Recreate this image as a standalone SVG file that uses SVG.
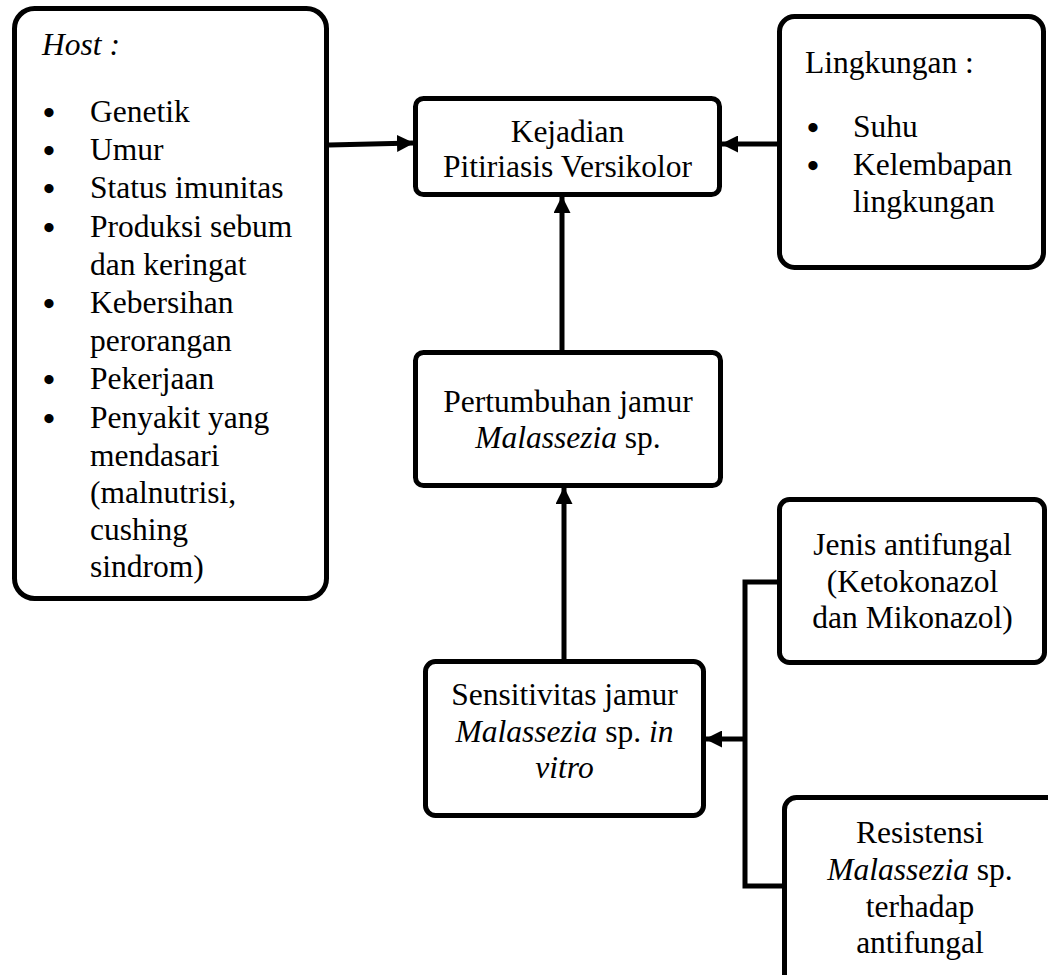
<svg xmlns="http://www.w3.org/2000/svg" width="1048" height="975" viewBox="0 0 1048 975" font-family="Liberation Serif, Times New Roman, serif" font-size="31.5">
<style>
.box{fill:#fff;stroke:#000;stroke-width:5}
.c{text-anchor:middle}
.i{font-style:italic}
.b{font-size:34px;font-weight:bold;text-anchor:middle}
.ln{fill:none;stroke:#000;stroke-width:5}
</style>
<defs>
<marker id="ah" markerUnits="userSpaceOnUse" markerWidth="17" markerHeight="17" refX="16" refY="8.5" orient="auto">
<path d="M0,0 L17,8.5 L0,17 z" fill="#000"/>
</marker>
</defs>
<rect width="1048" height="975" fill="#fff"/>
<g id="connectors">
<line class="ln" x1="329" y1="145" x2="413" y2="143" marker-end="url(#ah)"/>
<line class="ln" x1="778" y1="144" x2="722" y2="144" marker-end="url(#ah)"/>
<line class="ln" x1="562" y1="351" x2="562" y2="197" marker-end="url(#ah)"/>
<line class="ln" x1="564" y1="660" x2="564" y2="488" marker-end="url(#ah)"/>
<polyline class="ln" points="778,582 745,582 745,886 783,886"/>
<line class="ln" x1="745" y1="739" x2="706" y2="739" marker-end="url(#ah)"/>
</g>
<g id="host">
<rect class="box" x="14.5" y="8.5" width="312" height="590" rx="20"/>
<text class="i" x="42" y="55">Host :</text>
<text class="b" x="49" y="124">•</text>
<text x="90" y="122">Genetik</text>
<text class="b" x="49" y="162">•</text>
<text x="90" y="160">Umur</text>
<text class="b" x="49" y="200">•</text>
<text x="90" y="198">Status imunitas</text>
<text class="b" x="49" y="239">•</text>
<text x="90" y="237">Produksi sebum</text>
<text x="90" y="275">dan keringat</text>
<text class="b" x="49" y="315">•</text>
<text x="90" y="313">Kebersihan</text>
<text x="90" y="351">perorangan</text>
<text class="b" x="49" y="391">•</text>
<text x="90" y="389">Pekerjaan</text>
<text class="b" x="49" y="430">•</text>
<text x="90" y="428">Penyakit yang</text>
<text x="90" y="466">mendasari</text>
<text x="90" y="503">(malnutrisi,</text>
<text x="90" y="540">cushing</text>
<text x="90" y="577">sindrom)</text>
</g>
<g id="kejadian">
<rect class="box" x="415.5" y="98.5" width="304" height="96" rx="8"/>
<text class="c" x="567.5" y="142">Kejadian</text>
<text class="c" x="567.5" y="177">Pitiriasis Versikolor</text>
</g>
<g id="lingkungan">
<rect class="box" x="779.5" y="16.5" width="264" height="251" rx="15"/>
<text x="805" y="73">Lingkungan :</text>
<text class="b" x="813" y="139">•</text>
<text x="853" y="137">Suhu</text>
<text class="b" x="813" y="177">•</text>
<text x="853" y="175">Kelembapan</text>
<text x="853" y="212">lingkungan</text>
</g>
<g id="pertumbuhan">
<rect class="box" x="415.5" y="352.5" width="305" height="133" rx="8"/>
<text class="c" x="568" y="412">Pertumbuhan jamur</text>
<text class="c" x="568" y="448"><tspan class="i">Malassezia</tspan> sp.</text>
</g>
<g id="sensitivitas">
<rect class="box" x="425.5" y="661.5" width="278" height="154" rx="10"/>
<text class="c" x="564.5" y="705">Sensitivitas jamur</text>
<text class="c" x="564.5" y="742"><tspan class="i">Malassezia</tspan> sp. <tspan class="i">in</tspan></text>
<text class="c i" x="564.5" y="778">vitro</text>
</g>
<g id="jenis">
<rect class="box" x="779.5" y="499.5" width="265" height="163" rx="10"/>
<text class="c" x="912.5" y="555">Jenis antifungal</text>
<text class="c" x="912.5" y="592">(Ketokonazol</text>
<text class="c" x="912.5" y="628">dan Mikonazol)</text>
</g>
<g id="resistensi">
<rect class="box" x="784.5" y="797.5" width="280" height="190" rx="12"/>
<text class="c" x="920" y="843">Resistensi</text>
<text class="c" x="920" y="880"><tspan class="i">Malassezia</tspan> sp.</text>
<text class="c" x="920" y="917">terhadap</text>
<text class="c" x="920" y="953">antifungal</text>
</g>
</svg>
